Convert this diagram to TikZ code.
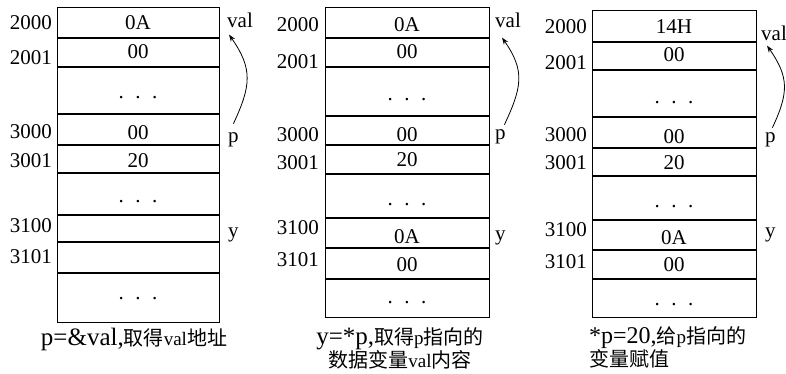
\documentclass[tikz,border=0pt]{standalone}
\usepackage{fontspec}
\setmainfont{Liberation Serif}
\newfontfamily\cjkfont{Noto Sans CJK SC}
\usetikzlibrary{arrows.meta}
\newcommand\zhtxt[1]{{\cjkfont\fontsize{20}{23}\selectfont #1}}
\newcommand\smtxt[1]{{\fontsize{19}{23}\selectfont #1}}
\newcommand\mydots{.\hspace{0.55em}.\hspace{0.55em}.}
\begin{document}
\begin{tikzpicture}[x=1pt,y=-1pt,
  every node/.style={inner sep=0pt, font=\fontsize{21}{24}\selectfont},
  addr/.style={anchor=east},
  side/.style={anchor=west},
  membox/.style={line width=0.7pt},
  sepline/.style={line width=1.3pt},
  ptr/.style={-{Stealth[length=7pt,width=5pt]}, line width=0.8pt},
  capc/.style={align=center, font=\fontsize{25}{23}\selectfont},
  capl/.style={align=left, anchor=west, font=\fontsize{24}{23}\selectfont}]
\useasboundingbox (0,0) rectangle (786,373);

% ---------- panel 1 ----------
\draw[membox] (57,7) rectangle (219,322);
\foreach \yy in {38,67,114,145,173,215,242,273} \draw[sepline] (57,\yy) -- (219,\yy);
\node[addr] (a1a) at (52,23) {2000};
\node[addr] (a1b) at (52,58) {2001};
\node[addr] (a1c) at (52,132) {3000};
\node[addr] (a1d) at (52,161) {3001};
\node[addr] (a1e) at (52,226) {3100};
\node[addr] (a1f) at (52,257) {3101};
\node (c1a) at (138,23) {0A};
\node (c1b) at (138,52) {00};
\node (c1c) at (138,98) {\mydots};
\node (c1d) at (138,133) {00};
\node (c1e) at (138,161) {20};
\node (c1f) at (138,202) {\mydots};
\node (c1g) at (138,299) {\mydots};
\node[side] (val1) at (227,20) {val};
\node[side] (p1) at (228,140) {p};
\node[side] (y1) at (228,235) {y};
\draw[ptr] ([xshift=0pt,yshift=9pt]p1.north) to[out=65,in=-55,looseness=1.2] ([xshift=2pt,yshift=-7pt]val1.south west);
\node[capc] (cap1) at (134,339) {p=\&val,\zhtxt{取得}\smtxt{val}\zhtxt{地址}};

% ---------- panel 2 ----------
\draw[membox] (325,7) rectangle (489,317);
\foreach \yy in {38,67,116,145,174,218,248,279} \draw[sepline] (325,\yy) -- (489,\yy);
\node[addr] (a2a) at (319,25) {2000};
\node[addr] (a2b) at (319,62) {2001};
\node[addr] (a2c) at (319,135) {3000};
\node[addr] (a2d) at (319,163) {3001};
\node[addr] (a2e) at (319,228) {3100};
\node[addr] (a2f) at (319,260) {3101};
\node (c2a) at (407,25) {0A};
\node (c2b) at (407,52) {00};
\node (c2c) at (407,100) {\mydots};
\node (c2d) at (407,135) {00};
\node (c2e) at (407,160) {20};
\node (c2f) at (407,205) {\mydots};
\node (c2g) at (407,237) {0A};
\node (c2h) at (407,265) {00};
\node (c2i) at (407,303) {\mydots};
\node[side] (val2) at (495,20) {val};
\node[side] (p2) at (495,137) {p};
\node[side] (y2) at (495,238) {y};
\draw[ptr] ([xshift=4pt,yshift=5pt]p2.north) to[out=65,in=-55,looseness=1.2] ([xshift=7pt,yshift=-10pt]val2.south west);
\node[capc] (cap2) at (400,348) {y=*p,\zhtxt{取得}\smtxt{p}\zhtxt{指向的}\\\zhtxt{数据变量}\smtxt{val}\zhtxt{内容}};

% ---------- panel 3 ----------
\draw[membox] (592,10) rectangle (756,317);
\foreach \yy in {42,70,117,148,176,220,250,279} \draw[sepline] (592,\yy) -- (756,\yy);
\node[addr] (a3a) at (587,27) {2000};
\node[addr] (a3b) at (587,63) {2001};
\node[addr] (a3c) at (587,135) {3000};
\node[addr] (a3d) at (587,163) {3001};
\node[addr] (a3e) at (587,230) {3100};
\node[addr] (a3f) at (587,262) {3101};
\node (c3a) at (674,27) {14H};
\node (c3b) at (674,55) {00};
\node (c3c) at (674,103) {\mydots};
\node (c3d) at (674,137) {00};
\node (c3e) at (674,163) {20};
\node (c3f) at (674,207) {\mydots};
\node (c3g) at (674,238) {0A};
\node (c3h) at (674,265) {00};
\node (c3i) at (674,305) {\mydots};
\node[side] (val3) at (761,33) {val};
\node[side] (p3) at (765,140) {p};
\node[side] (y3) at (765,235) {y};
\draw[ptr] ([xshift=2pt,yshift=5pt]p3.north) to[out=65,in=-55,looseness=1.2] ([xshift=6pt,yshift=-5pt]val3.south west);
\node[capl] (cap3) at (589,347) {*p=20,\zhtxt{给}\smtxt{p}\zhtxt{指向的}\\\zhtxt{变量赋值}};
\end{tikzpicture}
\end{document}
